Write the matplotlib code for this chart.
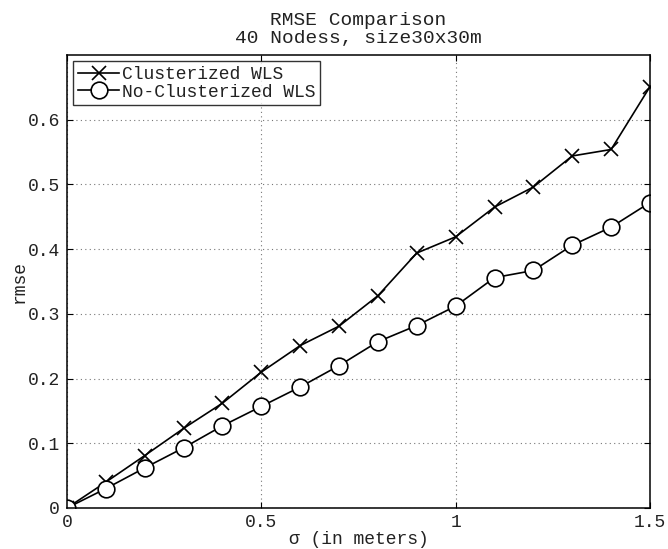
import matplotlib.pyplot as plt

sigma = [0, 0.1, 0.2, 0.3, 0.4, 0.5, 0.6, 0.7, 0.8, 0.9, 1.0, 1.1, 1.2, 1.3, 1.4, 1.5]
clust = [0, 0.040, 0.081, 0.123, 0.162, 0.210, 0.251, 0.281, 0.328, 0.394, 0.419,
         0.465, 0.496, 0.544, 0.554, 0.651]
noclust = [0, 0.030, 0.062, 0.093, 0.127, 0.157, 0.187, 0.220, 0.257, 0.282, 0.312,
           0.356, 0.367, 0.406, 0.434, 0.472]
xticks = [0, 0.5, 1, 1.5]
yticks = [0, 0.1, 0.2, 0.3, 0.4, 0.5, 0.6]

plt.rcParams['font.family'] = ['Liberation Mono', 'DejaVu Sans Mono']
fs = 13

fig = plt.figure(figsize=(6.68, 5.49), dpi=100)
ax = fig.add_axes([0.1003, 0.0747, 0.8727, 0.8251])

ax.plot(sigma, clust, 'k-x', lw=1.2, ms=10, mew=1.2, label='Clusterized WLS')
ax.plot(sigma, noclust, 'k-o', lw=1.2, ms=12, mew=1.2, mfc='white', label='No-Clusterized WLS')

ax.set_xlim(0, 1.5)
ax.set_ylim(0, 0.7)
ax.set_xticks(xticks)
ax.set_xticklabels(['0', '0.5', '1', '1.5'])
ax.set_yticks(yticks)
ax.set_yticklabels(['0', '0.1', '0.2', '0.3', '0.4', '0.5', '0.6'])
ax.tick_params(axis='x', pad=4)
ax.tick_params(direction='in', top=True, right=True, length=4, width=0.8,
               labelsize=fs, labelcolor='#222222')
ax.tick_params(axis='y', pad=5)
ax.grid(True, linestyle=(0, (1, 3)), color='#777777', lw=0.8)
for s in ax.spines.values():
    s.set_linewidth(1.1)

ax.set_title('RMSE Comparison\n40 Nodess, size30x30m', fontsize=14, linespacing=1.05, pad=9,
             color='#222222')
ax.set_xlabel('σ (in meters)', fontsize=fs, labelpad=0, color='#222222')
ax.set_ylabel('rmse', fontsize=fs, labelpad=0, color='#222222')

leg = ax.legend(loc='upper left', fontsize=fs, frameon=True, fancybox=False,
                edgecolor='black', handlelength=2.3, handletextpad=0.15,
                borderpad=0.25, labelspacing=0.05, borderaxespad=0.35)
leg.get_frame().set_linewidth(1.0)
for t in leg.get_texts():
    t.set_color('#222222')

fig.savefig('out.png', dpi=100)
